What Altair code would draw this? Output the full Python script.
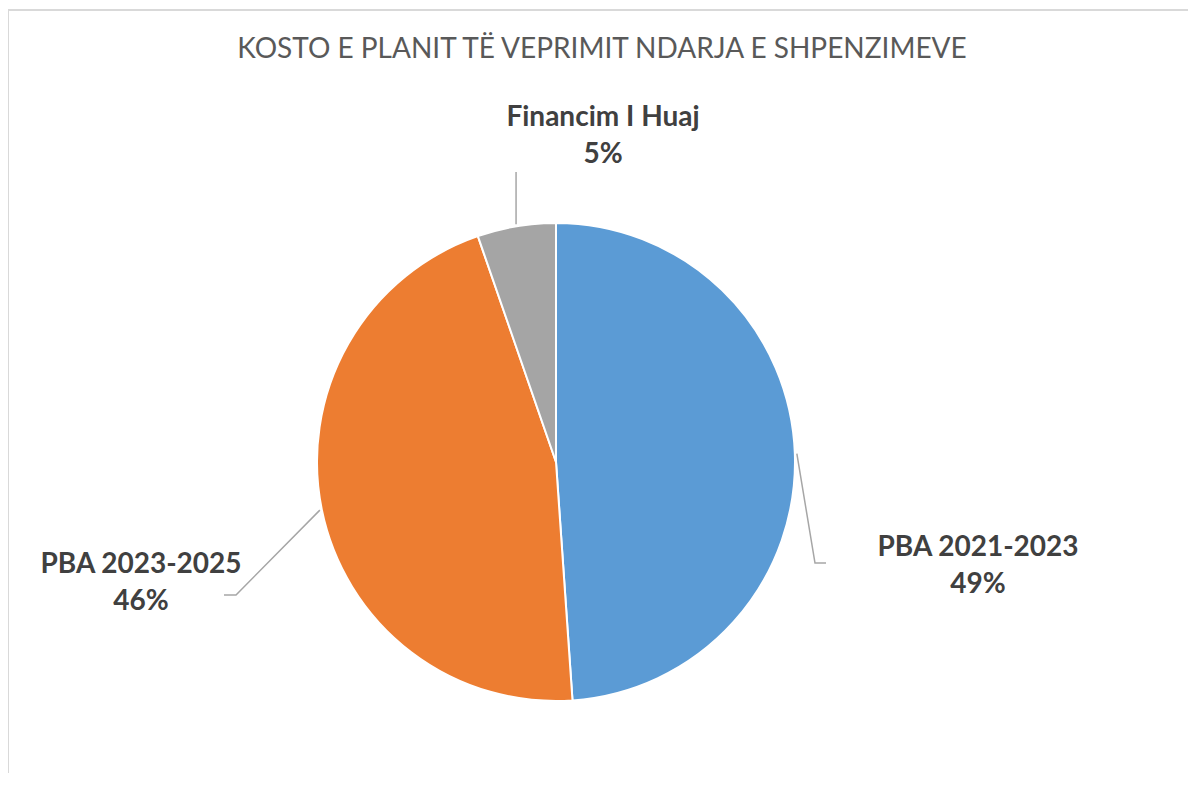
import math
import altair as alt
import pandas as pd

# ---- data ----
categories = ["PBA 2021-2023", "PBA 2023-2025", "Financim I Huaj"]
shares = [48.9, 45.8, 5.3]
pct_labels = ["49%", "46%", "5%"]
colors = ["#5B9BD5", "#ED7D31", "#A5A5A5"]
title_text = "KOSTO E PLANIT TË VEPRIMIT NDARJA E SHPENZIMEVE"

# ---- layout (pixels in chart space) ----
W, H = 1180, 765
CX, CY, R = 548, 454, 239
label_target = {  # centre of the first line of each label
    "PBA 2021-2023": (970, 540),
    "PBA 2023-2025": (133, 557),
    "Financim I Huaj": (595, 110),
}
label_radius = 330
leader_bends = {  # points after the slice edge point
    "PBA 2021-2023": [(807, 555), (818, 555)],
    "PBA 2023-2025": [(228, 587), (216, 587)],
    "Financim I Huaj": [(None, 164)],
}

df = pd.DataFrame({
    "cat": categories,
    "value": shares,
    "pct": pct_labels,
    "order": list(range(len(categories))),
})
df["label"] = df["cat"] + "\n" + df["pct"]

total = sum(shares)
mids = {}
acc = 0.0
for c, v in zip(categories, shares):
    mids[c] = (acc + v / 2) / total * 2 * math.pi
    acc += v

color_scale = alt.Scale(domain=categories, range=colors)

base = alt.Chart(df)

pie = base.mark_arc(outerRadius=R, stroke="white", strokeWidth=2).encode(
    theta=alt.Theta("value:Q", stack=True),
    color=alt.Color("cat:N", scale=color_scale, legend=None),
    order=alt.Order("order:Q"),
    x=alt.value(CX),
    y=alt.value(CY),
)

# labels positioned by the slice mid-angle (cumulative sum computed by Vega)
text_layers = []
for c in categories:
    a = mids[c]
    px = CX + label_radius * math.sin(a)
    py = CY - label_radius * math.cos(a)
    tx, ty = label_target[c]
    txt = base.transform_window(
        cum="sum(value)", sort=[alt.SortField("order")]
    ).transform_joinaggregate(
        tot="sum(value)"
    ).transform_calculate(
        mid="(datum.cum - datum.value / 2) / datum.tot"
    ).transform_filter(alt.datum.cat == c).mark_text(
        radius=label_radius,
        dx=tx - px,
        dy=ty - py,
        font="Lato",
        fontSize=28,
        fontWeight="bold",
        color="#404040",
        lineBreak="\n",
        lineHeight=37,
        baseline="middle",
        align="center",
    ).encode(
        theta=alt.Theta("mid:Q", stack=None, scale=alt.Scale(domain=[0, 1], range=[0, 2 * math.pi])),
        text="label:N",
        x=alt.value(CX),
        y=alt.value(CY),
    )
    text_layers.append(txt)
labels = alt.layer(*text_layers)

# leader lines from slice mid-angle to the label
rows = []
for c in categories:
    a = mids[c]
    sx = CX + (R + 2) * math.sin(a)
    sy = CY - (R + 2) * math.cos(a)
    pts = [(sx, sy)]
    for bx, by in leader_bends[c]:
        pts.append((sx if bx is None else bx, by))
    for i, (x, y) in enumerate(pts):
        rows.append({"cat": c, "step": i, "px": x, "py": y})
lead_df = pd.DataFrame(rows)
leaders = alt.Chart(lead_df).mark_line(color="#A6A6A6", strokeWidth=1.5).encode(
    x=alt.X("px:Q", scale=None),
    y=alt.Y("py:Q", scale=None),
    detail="cat:N",
    order="step:Q",
)

title = alt.Chart(pd.DataFrame({"t": [title_text]})).mark_text(
    font="Lato", fontSize=28, color="#595959", align="center", baseline="middle"
).encode(text="t:N", x=alt.value(594), y=alt.value(42))

frame_top = alt.Chart(pd.DataFrame({"a": [0]})).mark_rule(color="#D9D9D9", strokeWidth=2).encode(
    x=alt.value(0), x2=alt.value(W), y=alt.value(2)
)
frame_left = alt.Chart(pd.DataFrame({"a": [0]})).mark_rule(color="#D9D9D9", strokeWidth=2).encode(
    x=alt.value(0), y=alt.value(2), y2=alt.value(H)
)

chart = alt.layer(
    pie, labels, leaders, title, frame_top, frame_left
).resolve_scale(theta="independent").properties(
    width=W, height=H, padding=0, autosize=alt.AutoSizeParams(type="none")
).configure_view(stroke=None)

chart.save("out.html", embed_options={"renderer": "svg", "actions": False})
